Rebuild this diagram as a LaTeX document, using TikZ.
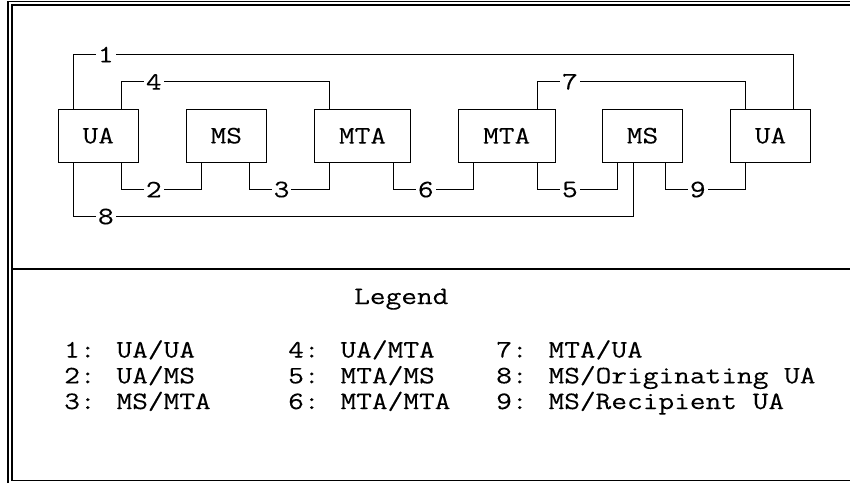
\documentclass[tikz,border=0pt]{standalone}
\usepackage{fontspec}
\newfontfamily\monof[FakeStretch=1.22,FakeBold=0.15]{Latin Modern Mono}
\usetikzlibrary{calc}
\begin{document}
\begin{tikzpicture}[x=1pt,y=-1pt,
  txt/.style={font=\monof\fontsize{25}{30}\selectfont},
  box/.style={draw, line width=1pt, minimum height=53.3pt, inner sep=0pt, txt},
  conn/.style={line width=1pt},
  lab/.style={fill=white, inner sep=2pt, txt},
  legtext/.style={anchor=base west, inner sep=0pt, txt},
  frame/.style={line width=1.2pt}]
\useasboundingbox (0,0) rectangle (850,483);
% frame
\draw[frame] (8,483) -- (8,1.3) -- (851,1.3);
\draw[frame] (851,5) -- (12,5) -- (12,480.3) -- (851,480.3);
\draw[line width=1.3pt] (12,269) -- (851,269);
% boxes
\node[box, minimum width=80pt] (ua1) at (98.3,135.7) {UA};
\node[box, minimum width=80.5pt] (ms1) at (226.3,135.7) {MS};
\node[box, minimum width=96.4pt] (mta1) at (362.5,135.7) {MTA};
\node[box, minimum width=96.6pt] (mta2) at (506.7,135.7) {MTA};
\node[box, minimum width=80.4pt] (ms2) at (642.5,135.7) {MS};
\node[box, minimum width=80.4pt] (ua2) at (770.5,135.7) {UA};
% connectors
\draw[conn] ($(ua1.north west)+(16,0)$) |- ($(ua2.north west)+(64,-54)$) -- ($(ua2.north west)+(64,0)$);
\draw[conn] ($(ua1.north west)+(64,0)$) |- ($(mta1.north west)+(16,-26.7)$) -- ($(mta1.north west)+(16,0)$);
\draw[conn] ($(mta2.north west)+(80,0)$) |- ($(ua2.north west)+(16,-26.7)$) -- ($(ua2.north west)+(16,0)$);
\draw[conn] ($(ua1.south west)+(64,0)$) |- ($(ms1.south west)+(16,26.7)$) -- ($(ms1.south west)+(16,0)$);
\draw[conn] ($(ms1.south west)+(64,0)$) |- ($(mta1.south west)+(16,26.7)$) -- ($(mta1.south west)+(16,0)$);
\draw[conn] ($(mta1.south west)+(80,0)$) |- ($(mta2.south west)+(16,26.7)$) -- ($(mta2.south west)+(16,0)$);
\draw[conn] ($(mta2.south west)+(80,0)$) |- ($(ms2.south west)+(16,26.7)$) -- ($(ms2.south west)+(16,0)$);
\draw[conn] ($(ms2.south west)+(64,0)$) |- ($(ua2.south west)+(16,26.7)$) -- ($(ua2.south west)+(16,0)$);
\draw[conn] ($(ua1.south west)+(16,0)$) |- ($(ms2.south west)+(32,53.7)$) -- ($(ms2.south west)+(32,0)$);
% connector labels
\node[lab] (l1) at ($(ua1.north west)+(48,-54)$) {1};
\node[lab] (l4) at ($(ua1.north west)+(96,-26.7)$) {4};
\node[lab] (l7) at ($(mta2.north west)+(112,-26.7)$) {7};
\node[lab] (l2) at ($(ua1.south west)+(96,26.7)$) {2};
\node[lab] (l3) at ($(ms1.south west)+(96,26.7)$) {3};
\node[lab] (l6) at ($(mta1.south west)+(112,26.7)$) {6};
\node[lab] (l5) at ($(mta2.south west)+(112,26.7)$) {5};
\node[lab] (l9) at ($(ms2.south west)+(96,26.7)$) {9};
\node[lab] (l8) at ($(ua1.south west)+(48,53.7)$) {8};
% legend
\node[legtext] (leg) at (354,304) {Legend};
\node[legtext] (e1) at (64,357.5) {1: UA/UA};
\node[legtext] (e2) at (64,383.3) {2: UA/MS};
\node[legtext] (e3) at (64,409) {3: MS/MTA};
\node[legtext] (e4) at (288,357.5) {4: UA/MTA};
\node[legtext] (e5) at (288,383.3) {5: MTA/MS};
\node[legtext] (e6) at (288,409) {6: MTA/MTA};
\node[legtext] (e7) at (496,357.5) {7: MTA/UA};
\node[legtext] (e8) at (496,383.3) {8: MS/Originating UA};
\node[legtext] (e9) at (496,409) {9: MS/Recipient UA};
\end{tikzpicture}
\end{document}
